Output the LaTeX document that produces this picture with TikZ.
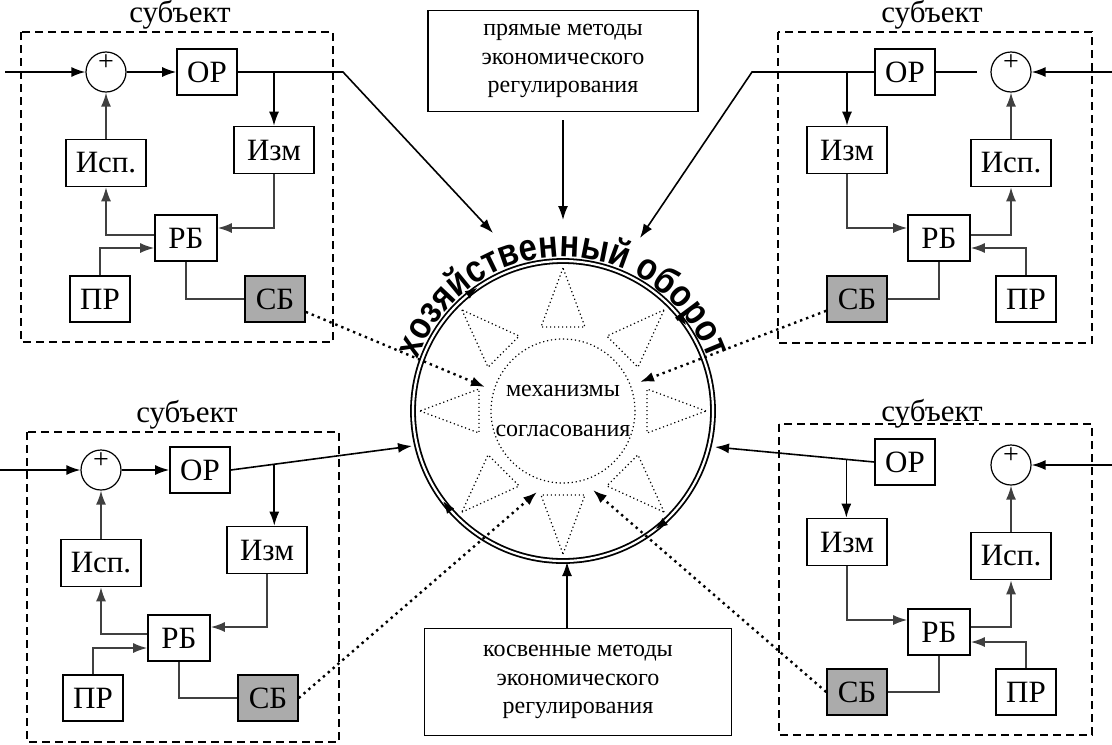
\documentclass[tikz,border=0pt]{standalone}
\usepackage{fontspec}
\setmainfont{Liberation Serif}
\newfontfamily\arcfont{Liberation Sans}[FakeStretch=0.86]
\usetikzlibrary{arrows.meta,calc,decorations.text,decorations.markings}

\begin{document}
\begin{tikzpicture}[x=0.5pt, y=-0.5pt, font=\fontsize{15.5}{18}\selectfont,
    blok/.style={draw, line width=0.8pt, inner sep=0pt, minimum width=30pt, minimum height=23pt},
    shirokij/.style={blok, minimum width=40pt, minimum height=23.5pt},
    sbblok/.style={blok, fill=black!33},
    summa/.style={draw, circle, line width=0.6pt, minimum size=20pt, inner sep=0pt,
      text height=6pt, text depth=8pt, font=\fontsize{14}{14}\selectfont},
    metod/.style={draw, line width=0.8pt, align=center, font=\fontsize{12}{14.2}\selectfont},
    ramka/.style={line width=0.6pt, dash pattern=on 4pt off 2.5pt},
    strel/.style={line width=0.8pt, -{Latex[length=7pt,width=5pt]}},
    svyaz/.style={line width=0.8pt, black!75},
    tochki/.style={line width=1.2pt, dash pattern=on 1.2pt off 2pt, -{Latex[length=7pt,width=5pt]}},
    punktir/.style={line width=0.6pt, dash pattern=on 0.6pt off 1.4pt}]
  \useasboundingbox (0,0) rectangle (1112,744);

  % хозяйственный оборот
  \coordinate (c) at (563,411);
  \coordinate (hTop) at (563,220);
  \coordinate (hTL) at (493,233);
  \coordinate (hTR) at (640,238);
  \coordinate (hBL) at (412,446);
  \coordinate (hBR) at (715,447);
  \coordinate (hBot) at (567,562);
  \coordinate (mTL) at (485,387);
  \coordinate (mTR) at (640,382);
  \coordinate (mBL) at (537,492);
  \coordinate (mBR) at (593,490);
  \draw[double, double distance=1.1pt, line width=0.9pt] (c) circle (75pt);
  \path[postaction={decorate}, decoration={markings,
      mark=at position 0.097 with {\arrowreversed{Latex[length=6pt,width=4.5pt]}},
      mark=at position 0.347 with {\arrowreversed{Latex[length=6pt,width=4.5pt]}},
      mark=at position 0.603 with {\arrowreversed{Latex[length=6pt,width=4.5pt]}},
      mark=at position 0.856 with {\arrowreversed{Latex[length=6pt,width=4.5pt]}}}]
    (c) circle (75pt);
  \path[decorate, decoration={text along path, text align=center,
      text={|\arcfont\bfseries\fontsize{19}{19}\selectfont|хозяйственный оборот}}]
    ($(c)+(180:77pt)$) arc[start angle=180, end angle=0, radius=77pt];
  % механизмы согласования
  \foreach \a in {0,45,...,315}
    \draw[punktir] ($(c)+(\a:71.5pt)$) -- ($(c)+(\a:42pt)+(\a+90:11pt)$)
      -- ($(c)+(\a:42pt)+(\a-90:11pt)$) -- cycle;
  \draw[punktir] (c) circle (36pt);
  \node[align=center, font=\fontsize{12}{20}\selectfont] (mech) at (c) {механизмы\\согласования};

  % методы регулирования
  \node[metod, minimum width=135pt, minimum height=50.5pt] (pryam) at (563,61)
    {прямые методы\\экономического\\регулирования};
  \node[metod, minimum width=153.5pt, minimum height=53.5pt] (kosv) at (578,682)
    {косвенные методы\\экономического\\регулирования};
  \draw[strel] ([yshift=-4pt]pryam.south) -- (hTop);
  \draw[strel] (hBot |- kosv.north) -- (hBot);

  % субъект слева вверху
  \draw[ramka] (21,32) rectangle (333,342);
  \node (subTL) at (180,15) {субъект};
  \node[summa] (sumTL) at (106,72) {+};
  \node[blok] (orTL) at (207,72) {ОР};
  \node[shirokij] (izmTL) at (274,150) {Изм};
  \node[shirokij] (ispTL) at (106,163) {Исп.};
  \node[blok, minimum width=31pt] (rbTL) at (186,238) {РБ};
  \node[blok] (prTL) at (100,299) {ПР};
  \node[sbblok] (sbTL) at (275,299) {СБ};
  \coordinate (inTL) at (5,72);
  \coordinate (kTL) at (343,72);
  \draw[strel] (inTL) -- (sumTL);
  \draw[strel] (sumTL) -- (orTL);
  \draw[strel] (orTL) -- (kTL) -- (hTL);
  \draw[strel] (izmTL.north |- orTL.east) -- (izmTL.north);
  \draw[strel, black!75] (ispTL) -- (sumTL);
  \draw[strel, black!75] (izmTL.south) |- ([yshift=5pt]rbTL.east);
  \draw[strel, black!75] ([yshift=1.5pt]rbTL.west) -| (ispTL.south);
  \draw[strel, black!75] (prTL.north) |- ([yshift=-5pt]rbTL.west);
  \draw[svyaz] (rbTL.south) |- (sbTL.west);
  \draw[tochki] (sbTL) -- (mTL);

  % субъект справа вверху
  \draw[ramka] (778,32) rectangle (1092,343);
  \node (subTR) at (932,15) {субъект};
  \node[summa] (sumTR) at (1011,72) {+};
  \node[blok] (orTR) at (905,72) {ОР};
  \node[shirokij] (izmTR) at (847,150) {Изм};
  \node[shirokij] (ispTR) at (1011,163) {Исп.};
  \node[blok, minimum width=31pt] (rbTR) at (939,238) {РБ};
  \node[blok] (prTR) at (1026,299) {ПР};
  \node[sbblok] (sbTR) at (857,299) {СБ};
  \coordinate (inTR) at (1112,72);
  \coordinate (kTR) at (752,72);
  \coordinate (gTR) at (977,72);
  \draw[strel] (inTR) -- (sumTR);
  \draw[line width=0.8pt] (orTR) -- (gTR);
  \draw[strel] (orTR) -- (kTR) -- (hTR);
  \draw[strel] (izmTR.north |- orTR.west) -- (izmTR.north);
  \draw[strel, black!75] (ispTR) -- (sumTR);
  \draw[strel, black!75] (izmTR.south) |- ([yshift=5pt]rbTR.west);
  \draw[strel, black!75] ([yshift=1.5pt]rbTR.east) -| (ispTR.south);
  \draw[strel, black!75] (prTR.north) |- ([yshift=-5pt]rbTR.east);
  \draw[svyaz] (rbTR.south) |- (sbTR.east);
  \draw[tochki] (sbTR) -- (mTR);

  % субъект слева внизу
  \draw[ramka] (27,432) rectangle (339,742);
  \node (subBL) at (187,415) {субъект};
  \node[summa] (sumBL) at (101,470) {+};
  \node[blok] (orBL) at (200,470) {ОР};
  \node[shirokij] (izmBL) at (267,550) {Изм};
  \node[shirokij] (ispBL) at (101,563) {Исп.};
  \node[blok, minimum width=31pt] (rbBL) at (179,638) {РБ};
  \node[blok] (prBL) at (93,698) {ПР};
  \node[sbblok] (sbBL) at (268,698) {СБ};
  \coordinate (inBL) at (0,470);
  \draw[strel] (inBL) -- (sumBL);
  \draw[strel] (sumBL) -- (orBL);
  \draw[strel] (orBL.east) -- (hBL);
  \coordinate (bBL) at ($(orBL.east)!0.24!(hBL)$);
  \draw[strel] (bBL) -- (bBL |- izmBL.north);
  \draw[strel, black!75] (ispBL) -- (sumBL);
  \draw[strel, black!75] (izmBL.south) |- ([yshift=5.5pt]rbBL.east);
  \draw[strel, black!75] ([yshift=2pt]rbBL.west) -| (ispBL.south);
  \draw[strel, black!75] (prBL.north) |- ([yshift=-5pt]rbBL.west);
  \draw[svyaz] (rbBL.south) |- (sbBL.west);
  \draw[tochki] (sbBL.east) -- (mBL);

  % субъект справа внизу
  \draw[ramka] (779,424) rectangle (1092,735);
  \node (subBR) at (932,414) {субъект};
  \node[summa] (sumBR) at (1011,465) {+};
  \node[blok] (orBR) at (905,462) {ОР};
  \node[shirokij] (izmBR) at (847,542) {Изм};
  \node[shirokij] (ispBR) at (1011,556) {Исп.};
  \node[blok, minimum width=31pt] (rbBR) at (939,632) {РБ};
  \node[blok] (prBR) at (1026,692) {ПР};
  \node[sbblok] (sbBR) at (857,692) {СБ};
  \coordinate (inBR) at (1112,465);
  \draw[strel] (inBR) -- (sumBR);
  \draw[strel] (orBR.west) -- (hBR);
  \coordinate (bBR) at ($(orBR.west)!0.175!(hBR)$);
  \draw[strel] (bBR) -- (bBR |- izmBR.north);
  \draw[strel, black!75] (ispBR) -- (sumBR);
  \draw[strel, black!75] (izmBR.south) |- ([yshift=6pt]rbBR.west);
  \draw[strel, black!75] ([yshift=2.5pt]rbBR.east) -| (ispBR.south);
  \draw[strel, black!75] (prBR.north) |- ([yshift=-5pt]rbBR.east);
  \draw[svyaz] (rbBR.south) |- (sbBR.east);
  \draw[tochki] (sbBR.west) -- (mBR);
\end{tikzpicture}
\end{document}
